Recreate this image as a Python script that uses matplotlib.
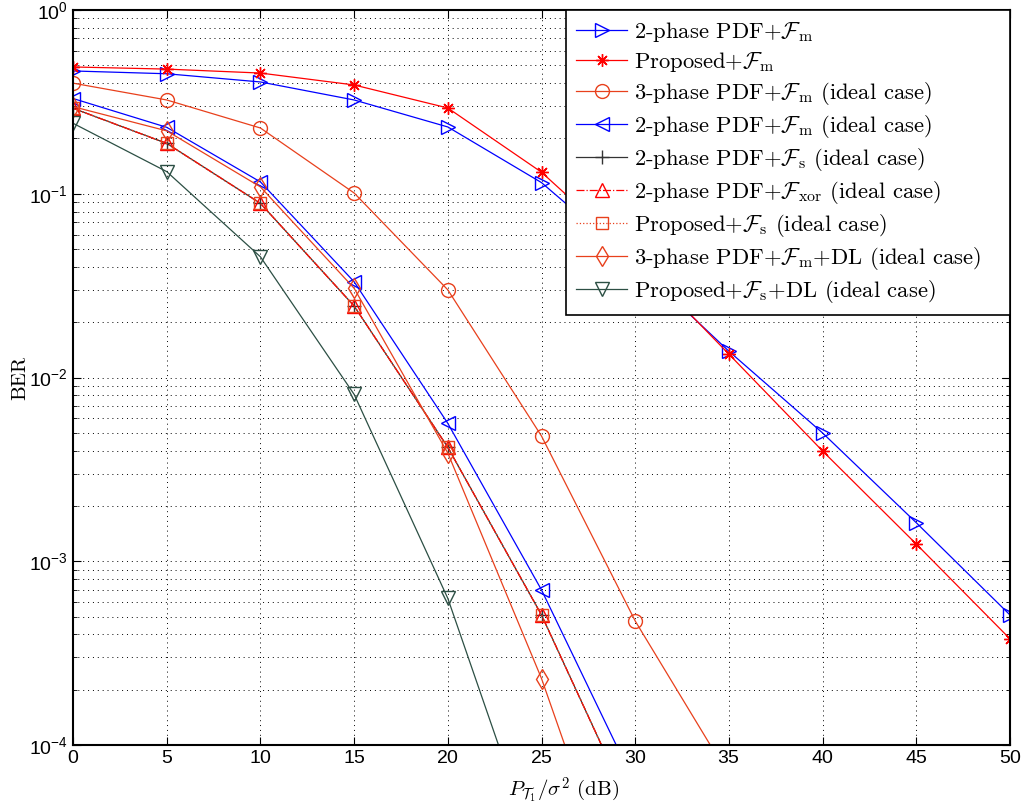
import numpy as np
import matplotlib
matplotlib.use("Agg")
from matplotlib import pyplot as plt
from matplotlib.font_manager import FontProperties

plt.rcParams['font.family'] = ['Liberation Sans', 'DejaVu Sans']
plt.rcParams['axes.formatter.use_mathtext'] = True

snr = [0, 5, 10, 15, 20, 25, 30, 35, 40, 45, 50]

# BER values; shorter lists run off the bottom of the axes
pdf2_fm = [0.466, 0.45, 0.406, 0.324, 0.231, 0.115, 0.042, 0.0139, 0.00499, 0.00162, 5.1e-4]
prop_fm = [0.49, 0.477, 0.454, 0.391, 0.293, 0.131, 0.045, 0.0134, 0.00398, 0.00124, 3.78e-4]
pdf3_fm_ideal = [0.40, 0.324, 0.228, 0.101, 0.030, 0.0048, 4.73e-4, 6.8e-5]
pdf2_fm_ideal = [0.33, 0.23, 0.116, 0.0332, 0.00563, 6.98e-4, 6.1e-5]
pdf2_fs_ideal = [0.292, 0.188, 0.0887, 0.0245, 0.00417, 5.1e-4, 4.0e-5]
pdf2_fxor_ideal = [0.292, 0.188, 0.0887, 0.0245, 0.00417, 5.1e-4, 4.0e-5]
prop_fs_ideal = [0.292, 0.188, 0.0887, 0.0245, 0.00417, 5.1e-4, 4.0e-5]
pdf3_dl_ideal = [0.298, 0.22, 0.109, 0.0306, 0.00388, 2.3e-4, 8e-6]
prop_dl_ideal = [0.242, 0.132, 0.0454, 0.0081, 6.28e-4, 2.1e-5]

labels = [
    r"2-phase PDF+$\mathcal{F}_{\mathrm{m}}$",
    r"Proposed+$\mathcal{F}_{\mathrm{m}}$",
    r"3-phase PDF+$\mathcal{F}_{\mathrm{m}}$ (ideal case)",
    r"2-phase PDF+$\mathcal{F}_{\mathrm{m}}$ (ideal case)",
    r"2-phase PDF+$\mathcal{F}_{\mathrm{s}}$ (ideal case)",
    r"2-phase PDF+$\mathcal{F}_{\mathrm{xor}}$ (ideal case)",
    r"Proposed+$\mathcal{F}_{\mathrm{s}}$ (ideal case)",
    r"3-phase PDF+$\mathcal{F}_{\mathrm{m}}$+DL (ideal case)",
    r"Proposed+$\mathcal{F}_{\mathrm{s}}$+DL (ideal case)",
]

blue = "#0000ff"
red = "#ff0000"
orange = "#e8401c"
green = "#2c4f44"

fig = plt.figure(figsize=(10.30, 8.09), dpi=100)
ax = fig.add_axes([0.0709, 0.0791, 0.9097, 0.9085])

def draw(y, ms=10, **kw):
    ax.plot(snr[:len(y)], y, fillstyle='none', linewidth=0.9, markersize=ms, **kw)

draw(pdf2_fm, color=blue, marker='>', label=labels[0])
draw(prop_fm, ms=9, color=red, marker=(8, 2, 0), label=labels[1])
draw(pdf3_fm_ideal, color=orange, marker='o', label=labels[2])
draw(pdf2_fm_ideal, color=blue, marker='<', label=labels[3])
draw(pdf2_fs_ideal, color="#333333", marker='+', label=labels[4])
draw(pdf2_fxor_ideal, color=red, marker='^', linestyle='-.', label=labels[5])
draw(prop_fs_ideal, ms=8, color=orange, marker='s', linestyle=':', label=labels[6])
draw(pdf3_dl_ideal, color=orange, marker='d', label=labels[7])
draw(prop_dl_ideal, color=green, marker='v', label=labels[8])

ax.set_yscale('log')
ax.set_xlim(0, 50)
ax.set_ylim(1e-4, 1)
ax.set_xticks(np.arange(0, 51, 5))
ax.grid(True, which='major', linestyle=(0, (1, 4)), color='black', linewidth=0.7)
ax.grid(True, which='minor', axis='y', linestyle=(0, (1, 4)), color='black', linewidth=0.7)
ax.tick_params(which='both', direction='in', top=True, right=True, labelsize=14)
ax.tick_params(which='major', length=6)
ax.tick_params(which='minor', length=3)
for s in ax.spines.values():
    s.set_linewidth(1.5)

cm_prop = FontProperties(family='cmr10', size=15, math_fontfamily='cm')
ax.set_xlabel(r"$P_{\mathcal{T}_1}/\sigma^2$ (dB)", fontproperties=cm_prop)
ax.xaxis.set_label_coords(0.523, -0.042, transform=ax.transAxes)
ax.set_ylabel("BER", fontproperties=FontProperties(family='cmr10', size=15))
ax.yaxis.set_label_coords(-0.047, 0.5, transform=ax.transAxes)

leg = ax.legend(loc='upper left', bbox_to_anchor=(0.526, 0.0, 0.474, 1.0), mode='expand',
                prop=FontProperties(family='cmr10', size=16.3, math_fontfamily='cm'),
                fancybox=False, edgecolor='black', framealpha=1, borderaxespad=0,
                handlelength=2.25, labelspacing=0.262, borderpad=0.45, handletextpad=0.3)
leg.get_frame().set_linewidth(1.2)

fig.savefig("out.png", dpi=100)
